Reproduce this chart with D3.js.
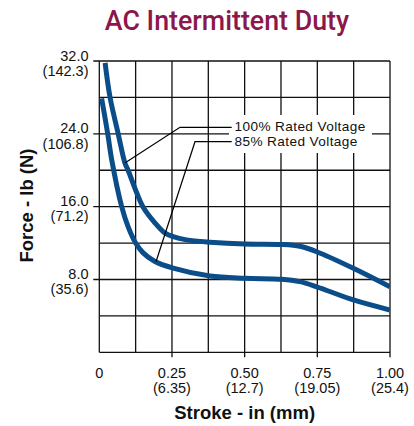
<!DOCTYPE html>
<html>
<head>
<meta charset="utf-8">
<script src="https://cdn.jsdelivr.net/npm/d3@7"></script>
<style>
  html, body { margin: 0; padding: 0; background: #fff; }
  svg { display: block; }
</style>
</head>
<body>
<svg id="chart" width="414" height="426"></svg>
<script>
// ---- Data ----
const title = "AC Intermittent Duty";
const xTitle = "Stroke - in (mm)";
const yTitle = "Force - lb (N)";

const seriesNames = ["100% Rated Voltage", "85% Rated Voltage"];

const stroke100 = [0.020, 0.037, 0.065, 0.088, 0.099, 0.129, 0.150, 0.192, 0.226, 0.254, 0.300, 0.381, 0.501, 0.627, 0.690, 0.748, 0.874, 1.000];
const force100  = [31.8, 28.0, 24.0, 20.8, 20.0, 17.5, 16.0, 14.2, 13.1, 12.7, 12.35, 12.1, 11.9, 11.85, 11.65, 11.05, 9.23, 7.2];

const stroke85 = [0.008, 0.029, 0.043, 0.077, 0.099, 0.125, 0.150, 0.190, 0.254, 0.381, 0.501, 0.627, 0.690, 0.748, 0.874, 1.000];
const force85  = [27.9, 24.0, 21.1, 16.0, 13.8, 12.0, 10.95, 10.0, 9.25, 8.38, 8.13, 8.02, 7.76, 7.2, 5.75, 4.65];

const xTickValues = [0, 0.25, 0.5, 0.75, 1.0];
const xTickLabels = ["0", "0.25", "0.50", "0.75", "1.00"];
const xTickLabelsMM = ["", "(6.35)", "(12.7)", "(19.05)", "(25.4)"];

const yTickValues = [8, 16, 24, 32];
const yTickLabels = ["8.0", "16.0", "24.0", "32.0"];
const yTickLabelsN = ["(35.6)", "(71.2)", "(106.8)", "(142.3)"];

const xGrid = d3.range(0, 1.0001, 0.125);
const yGrid = d3.range(0, 32.0001, 4);

// leader anchors (stroke value on each curve)
const leaderAnchorX = [0.088, 0.195];

// ---- Drawing ----
const svg = d3.select("#chart");
const font = "'Liberation Sans', Arial, Helvetica, sans-serif";

const x = d3.scaleLinear().domain([0, 1]).range([99.3, 390]);
const y = d3.scaleLinear().domain([0, 32]).range([352.3, 61]);

// Title
svg.append("text")
  .attr("x", 227).attr("y", 30)
  .attr("text-anchor", "middle")
  .attr("font-family", "Roboto, 'Open Sans', sans-serif")
  .attr("font-weight", 500)
  .attr("font-size", 26.8)
  .attr("fill", "#8B1849")
  .text(title);

const grid = svg.append("g").attr("stroke", "#111").attr("stroke-width", 1.3);

// vertical grid lines
grid.selectAll("line.v").data(xGrid).join("line")
  .attr("class", "v")
  .attr("x1", d => x(d)).attr("x2", d => x(d))
  .attr("y1", y(32)).attr("y2", d => xTickValues.includes(d) && d > 0 ? y(0) + 5 : y(0));

// horizontal grid lines
grid.selectAll("line.h").data(yGrid).join("line")
  .attr("class", "h")
  .attr("y1", d => y(d)).attr("y2", d => y(d))
  .attr("x1", d => yTickValues.includes(d) ? x(0) - 6 : x(0)).attr("x2", x(1));

// white box behind legend labels
svg.append("rect")
  .attr("x", 229).attr("y", 115)
  .attr("width", 143).attr("height", 38)
  .attr("fill", "#fff");

// curves
const line = d3.line()
  .x(d => x(d[0])).y(d => y(d[1]))
  .curve(d3.curveCatmullRom.alpha(0.5));

const series = [
  d3.zip(stroke100, force100),
  d3.zip(stroke85, force85)
];

svg.append("defs").append("clipPath").attr("id", "plotclip")
  .append("rect").attr("x", x(0)).attr("y", y(32)).attr("width", x(1) - x(0)).attr("height", y(0) - y(32));

svg.append("g").attr("clip-path", "url(#plotclip)")
  .selectAll("path").data(series).join("path")
  .attr("d", line)
  .attr("fill", "none")
  .attr("stroke", "#0B4D89")
  .attr("stroke-width", 5)
  .attr("stroke-linejoin", "round");

// leader lines
function valueAt(xs, ys, xv) {
  for (let i = 0; i < xs.length - 1; i++) {
    if (xv >= xs[i] && xv <= xs[i + 1]) {
      const t = (xv - xs[i]) / (xs[i + 1] - xs[i]);
      return ys[i] + t * (ys[i + 1] - ys[i]);
    }
  }
  return ys[ys.length - 1];
}
const leaderData = [
  { ax: x(leaderAnchorX[0]), ay: y(valueAt(stroke100, force100, leaderAnchorX[0])), kx: 180, ky: 127.3 },
  { ax: x(leaderAnchorX[1]), ay: y(valueAt(stroke85, force85, leaderAnchorX[1])), kx: 195, ky: 141.7 }
];
svg.append("g").selectAll("polyline").data(leaderData).join("polyline")
  .attr("points", d => `${d.ax},${d.ay} ${d.kx},${d.ky} 231.7,${d.ky}`)
  .attr("fill", "none")
  .attr("stroke", "#000")
  .attr("stroke-width", 1.2);

// legend labels
svg.append("g").selectAll("text").data(seriesNames).join("text")
  .attr("x", 234.5)
  .attr("y", (d, i) => i === 0 ? 131.3 : 146.2)
  .attr("font-family", font)
  .attr("font-size", 13.6)
  .attr("letter-spacing", 0.4)
  .attr("fill", "#111")
  .text(d => d);

// y tick labels
const yl = svg.append("g").attr("font-family", font).attr("font-size", 14.5).attr("fill", "#111").attr("text-anchor", "end");
yTickValues.forEach((v, i) => {
  yl.append("text").attr("x", 88.5).attr("y", y(v) - 0.5).text(yTickLabels[i]);
  yl.append("text").attr("x", 88.5).attr("y", y(v) + 14.8).text(yTickLabelsN[i]);
});

// x tick labels
const xl = svg.append("g").attr("font-family", font).attr("font-size", 14.5).attr("fill", "#111").attr("text-anchor", "middle");
xTickValues.forEach((v, i) => {
  xl.append("text").attr("x", x(v)).attr("y", 378).text(xTickLabels[i]);
  if (xTickLabelsMM[i]) xl.append("text").attr("x", x(v)).attr("y", 393.3).text(xTickLabelsMM[i]);
});

// axis titles
svg.append("text")
  .attr("x", (x(0) + x(1)) / 2).attr("y", 419)
  .attr("text-anchor", "middle")
  .attr("font-family", font).attr("font-weight", "bold").attr("font-size", 18.5)
  .attr("fill", "#111")
  .text(xTitle);

svg.append("text")
  .attr("transform", "translate(33,205.5) rotate(-90)")
  .attr("text-anchor", "middle")
  .attr("font-family", font).attr("font-weight", "bold").attr("font-size", 18.5)
  .attr("fill", "#111")
  .text(yTitle);
</script>
</body>
</html>
